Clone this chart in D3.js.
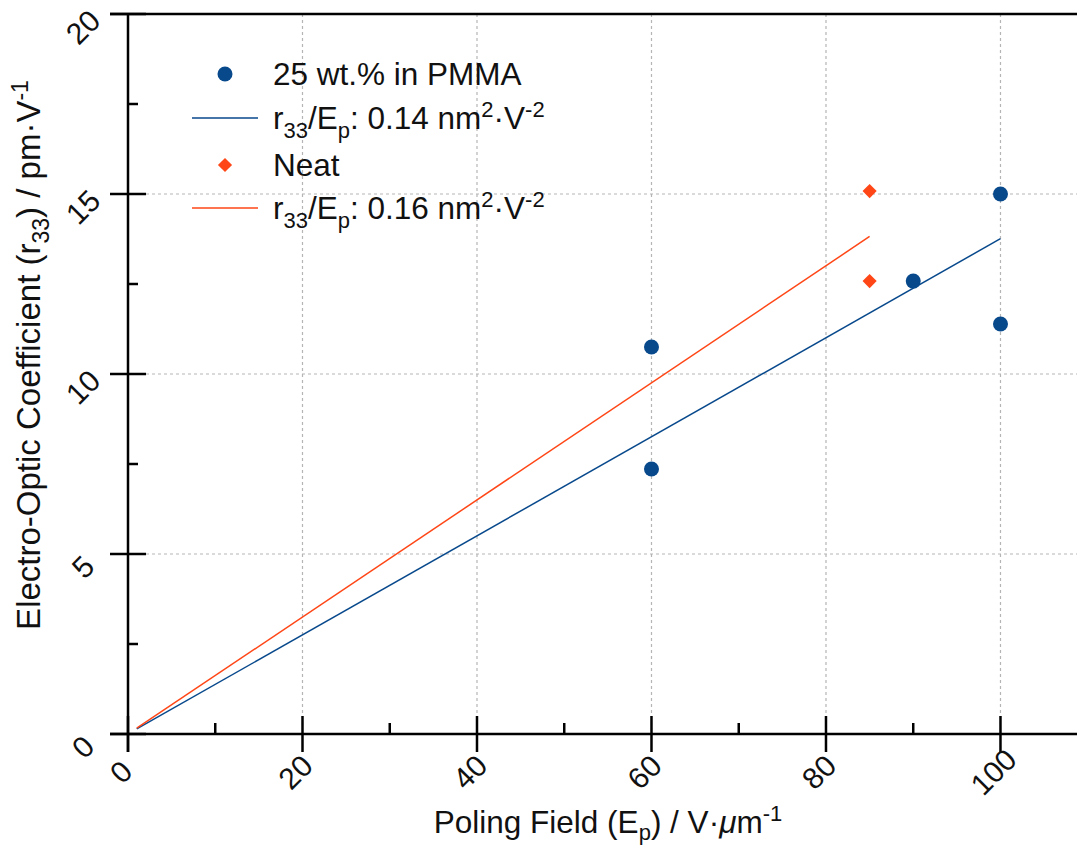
<!DOCTYPE html>
<html>
<head>
<meta charset="utf-8">
<script src="https://d3js.org/d3.v7.min.js"></script>
<style>
  body { margin: 0; background: #fff; }
  text { font-family: "Liberation Sans", Arial, Helvetica, sans-serif; fill: #111; }
</style>
</head>
<body>
<div id="chart"></div>
<script>

// data
var pmmaField = [60, 60, 90, 100, 100];
var pmmaR33   = [10.75, 7.36, 12.58, 15.0, 11.39];
var neatField = [85, 85];
var neatR33   = [15.08, 12.58];
// fitted lines r33 = slope * Ep, drawn between end points
var pmmaFit = [[1, 0.14], [100, 13.76]];
var neatFit = [[1, 0.16], [85, 13.82]];

var xMajor = [0, 20, 40, 60, 80, 100];
var xMinor = [10, 30, 50, 70, 90];
var yMajor = [0, 5, 10, 15, 20];
var yMinor = [2.5, 7.5, 12.5, 17.5];

var blue = "#08498c", orange = "#ff4616";
var width = 1077, height = 848;
var fs = "31.5px", fsSub = "22px";

var svg = d3.select("#chart").append("svg").attr("width", width).attr("height", height);

var x = d3.scaleLinear().domain([0, 108.77]).range([128, 1077]);
var y = d3.scaleLinear().domain([0, 20]).range([734, 14]);

// grid
svg.selectAll(".vgrid").data(xMajor.filter(d => d > 0)).enter().append("line")
    .attr("x1", d => x(d)).attr("x2", d => x(d)).attr("y1", y(20)).attr("y2", y(0))
    .style("stroke", "#b5b5b5").style("stroke-width", 1.2).style("stroke-dasharray", "3,3");
svg.selectAll(".hgrid").data(yMajor.filter(d => d > 0 && d < 20)).enter().append("line")
    .attr("x1", x(0)).attr("x2", width).attr("y1", d => y(d)).attr("y2", d => y(d))
    .style("stroke", "#b5b5b5").style("stroke-width", 1.2).style("stroke-dasharray", "3,3");

// axis frame
var ax = svg.append("g").style("stroke", "#000").style("stroke-width", 2.5);
ax.append("line").attr("x1", 110).attr("x2", width).attr("y1", y(0)).attr("y2", y(0));
ax.append("line").attr("x1", 110).attr("x2", width).attr("y1", y(20)).attr("y2", y(20));
ax.append("line").attr("x1", x(0)).attr("x2", x(0)).attr("y1", y(20)).attr("y2", y(0) + 18);

// ticks
ax.selectAll(".xt").data(xMajor).enter().append("line")
    .attr("x1", d => x(d)).attr("x2", d => x(d)).attr("y1", y(0) - 18).attr("y2", y(0) + 18);
ax.selectAll(".xm").data(xMinor).enter().append("line")
    .attr("x1", d => x(d)).attr("x2", d => x(d)).attr("y1", y(0) - 11).attr("y2", y(0));
ax.selectAll(".yt").data(yMajor).enter().append("line")
    .attr("x1", 110).attr("x2", 146).attr("y1", d => y(d)).attr("y2", d => y(d));
ax.selectAll(".ym").data(yMinor).enter().append("line")
    .attr("x1", x(0)).attr("x2", x(0) + 10).attr("y1", d => y(d)).attr("y2", d => y(d));

// tick labels, rotated
svg.selectAll(".xl").data(xMajor).enter().append("text")
    .attr("transform", d => "translate(" + (x(d) - 7) + "," + (y(0) + 38) + ") rotate(-45)")
    .attr("text-anchor", "middle").attr("dy", "0.35em")
    .style("font-size", "30px").text(d => d);
svg.selectAll(".yl").data(yMajor).enter().append("text")
    .attr("transform", d => "translate(" + 83 + "," + (y(d) + 13) + ") rotate(-45)")
    .attr("text-anchor", "middle").attr("dy", "0.35em")
    .style("font-size", "30px").text(d => d);

// fit lines
var line = d3.line().x(d => x(d[0])).y(d => y(d[1]));
svg.append("path").datum(pmmaFit).attr("d", line).style("fill", "none").style("stroke", blue).style("stroke-width", 1.5);
svg.append("path").datum(neatFit).attr("d", line).style("fill", "none").style("stroke", orange).style("stroke-width", 1.5);

// points
svg.selectAll(".pm").data(d3.zip(pmmaField, pmmaR33)).enter().append("circle")
    .attr("cx", d => x(d[0])).attr("cy", d => y(d[1])).attr("r", 7.5).style("fill", blue);
var diamond = d3.symbol().type(d3.symbolSquare).size(100);
svg.selectAll(".nt").data(d3.zip(neatField, neatR33)).enter().append("path")
    .attr("d", diamond)
    .attr("transform", d => "translate(" + x(d[0]) + "," + y(d[1]) + ") rotate(45)")
    .style("fill", orange);

// legend
var lg = svg.append("g");
lg.append("circle").attr("cx", 225).attr("cy", 74).attr("r", 7.5).style("fill", blue);
lg.append("line").attr("x1", 192).attr("x2", 258).attr("y1", 118).attr("y2", 118).style("stroke", blue).style("stroke-width", 1.5);
lg.append("path").attr("d", diamond).attr("transform", "translate(225,165) rotate(45)").style("fill", orange);
lg.append("line").attr("x1", 192).attr("x2", 258).attr("y1", 208).attr("y2", 208).style("stroke", orange).style("stroke-width", 1.5);

lg.append("text").attr("x", 273).attr("y", 85).style("font-size", fs).text("25 wt.% in PMMA");
lg.append("text").attr("x", 273).attr("y", 176).style("font-size", fs).text("Neat");

function fitLabel(yy, val) {
  var t = lg.append("text").attr("x", 273).attr("y", yy).style("font-size", fs);
  t.append("tspan").text("r");
  t.append("tspan").attr("dy", 9).style("font-size", fsSub).text("33");
  t.append("tspan").attr("dy", -9).text("/E");
  t.append("tspan").attr("dy", 9).style("font-size", fsSub).text("p");
  t.append("tspan").attr("dy", -9).text(": " + val + " nm");
  t.append("tspan").attr("dy", -12).style("font-size", fsSub).text("2");
  t.append("tspan").attr("dy", 12).text("\u00b7V");
  t.append("tspan").attr("dy", -12).style("font-size", fsSub).text("-2");
}
fitLabel(129, "0.14");
fitLabel(219, "0.16");

// axis titles
var xt = svg.append("text").attr("x", 608).attr("y", 833).attr("text-anchor", "middle").style("font-size", fs);
xt.append("tspan").text("Poling Field (E");
xt.append("tspan").attr("dy", 7).style("font-size", fsSub).text("p");
xt.append("tspan").attr("dy", -7).text(") / V\u00b7");
xt.append("tspan").style("font-style", "italic").text("\u03bc");
xt.append("tspan").text("m");
xt.append("tspan").attr("dy", -12).style("font-size", fsSub).text("-1");

var yt = svg.append("text").attr("transform", "translate(40,355) rotate(-90)").attr("text-anchor", "middle").style("font-size", "33px");
yt.append("tspan").text("Electro-Optic Coefficient (r");
yt.append("tspan").attr("dy", 9).style("font-size", "23px").text("33");
yt.append("tspan").attr("dy", -9).text(") / pm\u00b7V");
yt.append("tspan").attr("dy", -12).style("font-size", "23px").text("-1");

</script>
</body>
</html>
